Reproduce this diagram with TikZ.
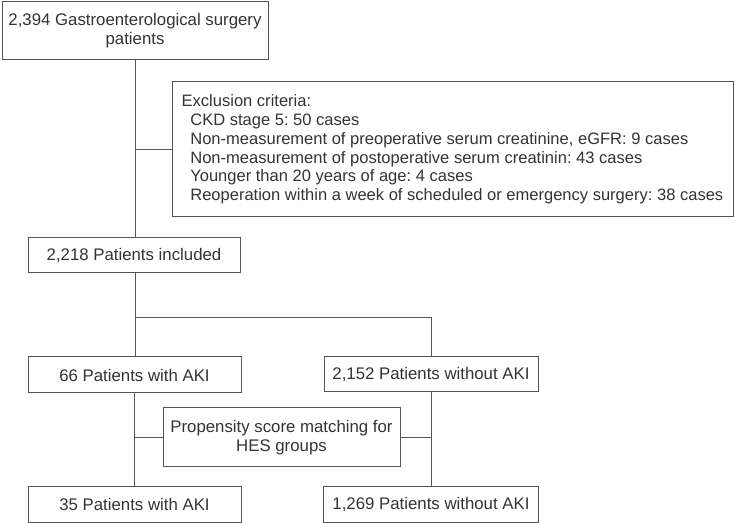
\documentclass[tikz,border=0pt]{standalone}
\usepackage{fontspec}
\setmainfont{Liberation Sans}
\newdimen\px \px=0.75pt
\frenchspacing
\begin{document}
\begin{tikzpicture}[x=0.75pt,y=-0.75pt,
  bx/.style={draw=linegray, line width=1\px, inner sep=0pt, text=txtgray,
    font=\fontsize{12.6}{14.2}\selectfont, align=center},
  ln/.style={draw=linegray, line width=1\px}]
\definecolor{linegray}{HTML}{555555}
\definecolor{txtgray}{HTML}{333333}
\useasboundingbox (0,0) rectangle (735,523);
\node[bx, minimum width=266\px, minimum height=58\px] (a) at (135,31)
  {2,394 Gastroenterological surgery\\patients};
\node[bx, minimum width=561\px, minimum height=135\px, align=left,
  font=\fontsize{12.4}{14.1}\selectfont] (excl) at (452.5,149.5)
  {Exclusion criteria:\\
   \hspace*{6.5pt}CKD stage 5: 50 cases\\
   \hspace*{6.5pt}Non-measurement of preoperative serum creatinine, eGFR: 9 cases\\
   \hspace*{6.5pt}Non-measurement of postoperative serum creatinin: 43 cases\\
   \hspace*{6.5pt}Younger than 20 years of age: 4 cases\\
   \hspace*{6.5pt}Reoperation within a week of scheduled or emergency surgery: 38 cases};
\node[bx, minimum width=212\px, minimum height=35\px] (inc) at (134,255.5)
  {2,218 Patients included};
\node[bx, minimum width=213\px, minimum height=36\px] (aki) at (134.5,375)
  {66 Patients with AKI};
\node[bx, minimum width=214\px, minimum height=35\px] (noaki) at (431,374.5)
  {2,152 Patients without AKI};
\node[bx, minimum width=237\px, minimum height=59\px] (ps) at (281.5,437.5)
  {Propensity score matching for\\HES groups};
\node[bx, minimum width=213\px, minimum height=36\px] (aki2) at (134.5,504)
  {35 Patients with AKI};
\node[bx, minimum width=215\px, minimum height=36\px] (noaki2) at (431,504)
  {1,269 Patients without AKI};
\coordinate (split) at (135,318);
\draw[ln] (a.south) -- (a.south |- inc.north);
\draw[ln] (a.south |- excl.west) -- (excl.west);
\draw[ln] (split |- inc.south) -- (split |- aki.north);
\draw[ln] (split) -- (split -| noaki.north) -- (noaki.north);
\draw[ln] (aki.south) -- (aki2.north);
\draw[ln] (noaki.south) -- (noaki2.north);
\draw[ln] (ps.west) -- (aki.south |- ps.west);
\draw[ln] (ps.east) -- (noaki.south |- ps.east);
\end{tikzpicture}
\end{document}
